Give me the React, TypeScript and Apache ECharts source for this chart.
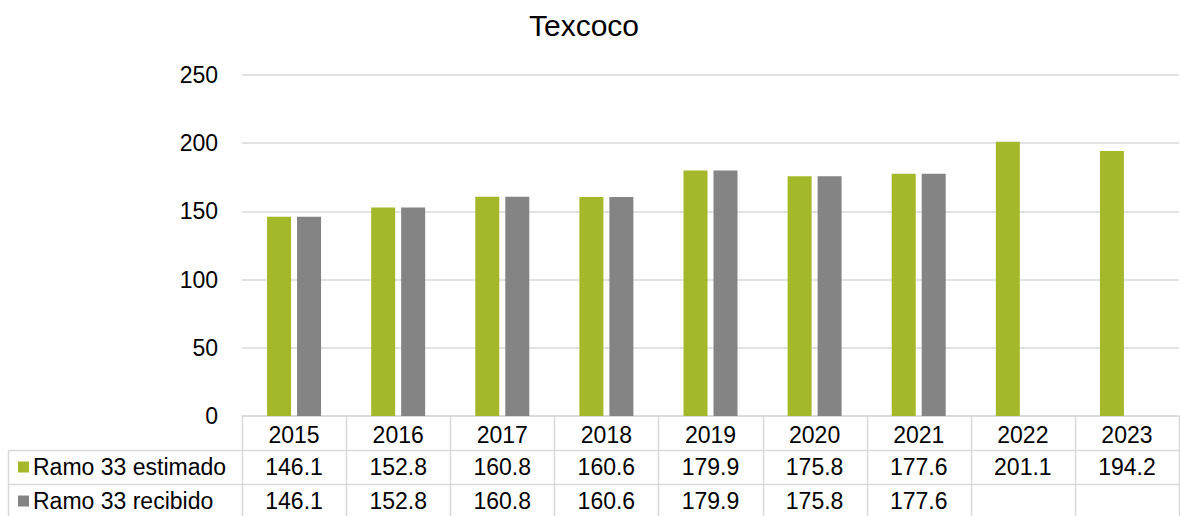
import React, { useEffect, useRef } from "react";
import * as echarts from "echarts";

const title = "Texcoco";
const years = ["2015", "2016", "2017", "2018", "2019", "2020", "2021", "2022", "2023"];
const estimado: (number | null)[] = [146.1, 152.8, 160.8, 160.6, 179.9, 175.8, 177.6, 201.1, 194.2];
const recibido: (number | null)[] = [146.1, 152.8, 160.8, 160.6, 179.9, 175.8, 177.6, null, null];
const seriesNames = ["Ramo 33 estimado", "Ramo 33 recibido"];
const colors = ["#A5B82A", "#848484"];

const W = 1180;
const H = 516;
const GRID_LEFT = 242;
const GRID_RIGHT = 1;
const GRID_TOP = 75;
const AXIS_Y = 416;
const ROW1 = 450;
const ROW2 = 484;
const TABLE_LEFT = 8;
const LINE = "#D9D9D9";
const FONT = "Liberation Sans, Arial, sans-serif";
const FS = 23;

export default function App() {
  const ref = useRef<HTMLDivElement>(null);
  useEffect(() => {
    if (!ref.current) return;
    const chart = echarts.init(ref.current, null, { renderer: "svg" });
    const right = W - GRID_RIGHT;
    const cellW = (right - GRID_LEFT) / years.length;
    const graphics: any[] = [];
    const rows = [estimado, recibido];
    const rowTops = [ROW1, ROW2];
    [ROW1, ROW2].forEach((y) => {
      graphics.push({
        type: "line",
        shape: { x1: TABLE_LEFT, y1: y + 0.5, x2: right, y2: y + 0.5 },
        style: { stroke: LINE, lineWidth: 1.5 },
      });
    });
    graphics.push({
      type: "line",
      shape: { x1: TABLE_LEFT + 0.5, y1: ROW1, x2: TABLE_LEFT + 0.5, y2: H },
      style: { stroke: LINE, lineWidth: 1.5 },
    });
    for (let i = 0; i <= years.length; i++) {
      const x = Math.round(GRID_LEFT + i * cellW) + 0.5;
      graphics.push({
        type: "line",
        shape: { x1: x, y1: AXIS_Y, x2: x, y2: H },
        style: { stroke: LINE, lineWidth: 1.5 },
      });
    }
    rows.forEach((vals, r) => {
      const top = rowTops[r];
      const cy = top + 17;
      graphics.push({
        type: "rect",
        shape: { x: 18, y: cy - 5.5, width: 11, height: 11 },
        style: { fill: colors[r] },
      });
      graphics.push({
        type: "text",
        x: 33,
        y: cy,
        style: {
          text: seriesNames[r],
          fill: "#000",
          font: `${FS}px ${FONT}`,
          verticalAlign: "middle",
          align: "left",
        },
      });
      vals.forEach((v, i) => {
        if (v == null) return;
        graphics.push({
          type: "text",
          x: GRID_LEFT + (i + 0.5) * cellW,
          y: cy,
          style: {
            text: v.toFixed(1),
            fill: "#000",
            font: `${FS}px ${FONT}`,
            verticalAlign: "middle",
            align: "center",
          },
        });
      });
    });
    graphics.push({
      type: "text",
      x: 584,
      y: 25,
      style: {
        text: title,
        fill: "#000",
        font: `30px ${FONT}`,
        verticalAlign: "middle",
        align: "center",
      },
    });

    chart.setOption({
      animation: false,
      grid: { left: GRID_LEFT, right: GRID_RIGHT, top: GRID_TOP, bottom: H - AXIS_Y },
      xAxis: {
        type: "category",
        data: years,
        axisLine: { lineStyle: { color: LINE, width: 1.5 } },
        axisTick: { show: false },
        axisLabel: { color: "#000", fontSize: FS, fontFamily: FONT, margin: 7 },
      },
      yAxis: {
        type: "value",
        min: 0,
        max: 250,
        interval: 50,
        axisLine: { show: false },
        axisTick: { show: false },
        splitLine: { lineStyle: { color: LINE, width: 1.5 } },
        axisLabel: { color: "#000", fontSize: FS, fontFamily: FONT, margin: 24 },
      },
      series: [
        {
          name: seriesNames[0],
          type: "bar",
          data: estimado,
          barWidth: 24,
          barGap: "25%",
          itemStyle: { color: colors[0] },
        },
        {
          name: seriesNames[1],
          type: "bar",
          data: recibido,
          barWidth: 24,
          barGap: "25%",
          itemStyle: { color: colors[1] },
        },
      ],
      graphic: graphics,
    });
    return () => chart.dispose();
  }, []);
  return (
    <div
      ref={ref}
      style={{ position: "fixed", left: 0, top: 0, width: W, height: H, background: "#fff" }}
    />
  );
}
